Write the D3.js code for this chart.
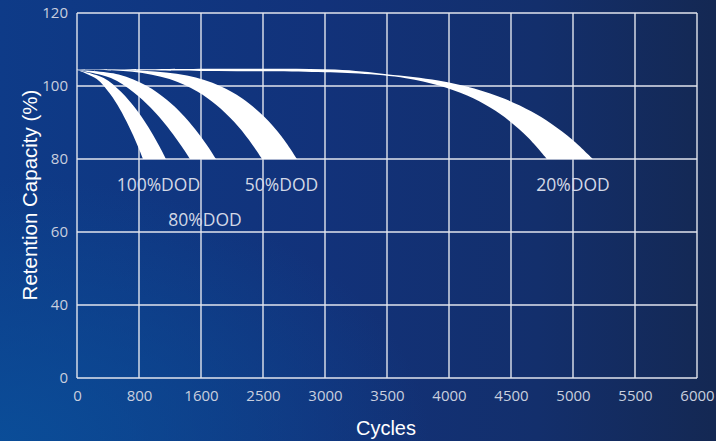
<!DOCTYPE html>
<html>
<head>
<meta charset="utf-8">
<script src="https://cdn.jsdelivr.net/npm/d3@7"></script>
<style>
  html, body { margin: 0; padding: 0; background: #12337a; }
  svg { display: block; }
</style>
</head>
<body>
<svg id="chart" width="716" height="441"></svg>
<script>
// ---- data ----
const xTicks = [0, 800, 1600, 2500, 3000, 3500, 4000, 4500, 5000, 5500, 6000];
const yTicks = [0, 40, 60, 80, 100, 120];

// band edges: [cycles, capacity %]
const dod100Outer = [[0,104.4],[345,102.19],[574,98.29],[746,94.08],[861,90.67],[976,86.77],[1068,83.29],[1148,80]];
const dod100Inner = [[0,104.4],[255,101.92],[426,97.85],[554,93.63],[639,90.27],[724,86.49],[792,83.15],[852,80]];
const dod80Outer  = [[0,104.4],[538,103.18],[897,100.08],[1166,96.08],[1345,92.51],[1525,88.14],[1677,84.05],[1818,80]];
const dod80Inner  = [[0,104.4],[437,102.19],[729,98.29],[948,94.08],[1094,90.67],[1239,86.77],[1356,83.29],[1458,80]];
const dod50Outer  = [[0,104.4],[852,104.19],[1419,102.86],[1876,100.03],[2195,96.66],[2508,91.64],[2650,86.14],[2774,80]];
const dod50Inner  = [[0,104.4],[716,103.93],[1194,101.91],[1552,98.5],[1814,94.95],[2083,90.12],[2297,85.19],[2485,80]];
const dod20Outer  = [[0,104.4],[2047,104.71],[3081,104.49],[3497,103.24],[3913,101.52],[4204,99.3],[4454,96.41],[4662,93.06],[4828,89.6],[4995,85.3],[5161,80]];
const dod20Inner  = [[0,104.4],[1847,104.11],[2895,103.84],[3274,103.4],[3653,102.15],[3919,100.15],[4146,97.39],[4335,94.03],[4487,90.44],[4639,85.83],[4790,80]];

const bandNames = ["100%DOD", "80%DOD", "50%DOD", "20%DOD"];
const labelPos = [[1050, 72.5], [1658, 62.8], [2649, 72.5], [5000, 72.5]]; // [cycles, capacity]

// ---- layout ----
const W = 716, H = 441;
const mLeft = 77, mRight = 697, mTop = 13, mBottom = 378;

const svg = d3.select("#chart");
const defs = svg.append("defs");
const lg = defs.append("linearGradient").attr("id", "bg").attr("x1", "0").attr("y1", "0").attr("x2", "1").attr("y2", "0");
lg.append("stop").attr("offset", "0%").attr("stop-color", "#0e3b88");
lg.append("stop").attr("offset", "45%").attr("stop-color", "#12327a");
lg.append("stop").attr("offset", "75%").attr("stop-color", "#132f6c");
lg.append("stop").attr("offset", "100%").attr("stop-color", "#142853");
const rg = defs.append("radialGradient").attr("id", "glow").attr("cx", "0").attr("cy", "1").attr("r", "0.6");
rg.append("stop").attr("offset", "0%").attr("stop-color", "#0a4f9a").attr("stop-opacity", 0.9);
rg.append("stop").attr("offset", "100%").attr("stop-color", "#0a4f9a").attr("stop-opacity", 0);

svg.append("rect").attr("width", W).attr("height", H).attr("fill", "url(#bg)");
svg.append("rect").attr("width", W).attr("height", H).attr("fill", "url(#glow)");

const x = d3.scaleLinear()
  .domain(xTicks)
  .range(xTicks.map((d, i) => mLeft + i * (mRight - mLeft) / (xTicks.length - 1)));
const y = d3.scaleLinear()
  .domain(yTicks)
  .range(yTicks.map((d, i) => mBottom - i * (mBottom - mTop) / (yTicks.length - 1)));

// grid
const grid = svg.append("g").attr("stroke", "#e2e5ee").attr("stroke-width", 1.4);
grid.selectAll("line.v").data(xTicks).join("line").attr("class", "v")
  .attr("x1", d => x(d)).attr("x2", d => x(d)).attr("y1", y(120)).attr("y2", y(0));
grid.selectAll("line.h").data(yTicks).join("line").attr("class", "h")
  .attr("y1", d => y(d)).attr("y2", d => y(d)).attr("x1", x(0)).attr("x2", x(6000));

// axes (labels only)
const tickFont = "'Open Sans', 'Noto Sans', sans-serif";
const xAxis = svg.append("g").attr("transform", `translate(0,${y(0)})`)
  .call(d3.axisBottom(x).tickValues(xTicks).tickSize(0).tickPadding(12).tickFormat(d3.format("d")));
const yAxis = svg.append("g").attr("transform", `translate(${x(0)},0)`)
  .call(d3.axisLeft(y).tickValues(yTicks).tickSize(0).tickPadding(9).tickFormat(d3.format("d")));
[xAxis, yAxis].forEach(a => {
  a.select(".domain").remove();
  a.selectAll("text").attr("fill", "#c9cfdf").attr("font-size", 15).attr("font-family", tickFont);
});

// bands
const line = d3.line().x(d => x(d[0])).y(d => y(d[1])).curve(d3.curveCatmullRom.alpha(0.5));
const bands = [[dod100Outer, dod100Inner], [dod80Outer, dod80Inner], [dod50Outer, dod50Inner], [dod20Outer, dod20Inner]];
svg.append("g").selectAll("path").data(bands).join("path")
  .attr("d", d => {
    const a = line(d[0]);
    const b = line(d[1].slice().reverse());
    return a + "L" + b.slice(1) + "Z";
  })
  .attr("fill", "#ffffff");

// band labels
svg.append("g").selectAll("text").data(bandNames).join("text")
  .attr("x", (d, i) => x(labelPos[i][0]))
  .attr("y", (d, i) => y(labelPos[i][1]))
  .attr("text-anchor", "middle")
  .attr("dominant-baseline", "middle")
  .attr("fill", "#d3d8e6")
  .attr("font-size", 17.5)
  .attr("font-family", tickFont)
  .text(d => d);

// axis titles
svg.append("text").attr("x", 386).attr("y", 435).attr("text-anchor", "middle")
  .attr("fill", "#ffffff").attr("font-size", 20).attr("font-family", "'Liberation Sans', Arial, sans-serif")
  .text("Cycles");
svg.append("text").attr("transform", `translate(37,195) rotate(-90)`).attr("text-anchor", "middle")
  .attr("fill", "#ffffff").attr("font-size", 20.5).attr("font-family", "'Liberation Sans', Arial, sans-serif")
  .text("Retention Capacity (%)");
</script>
</body>
</html>
